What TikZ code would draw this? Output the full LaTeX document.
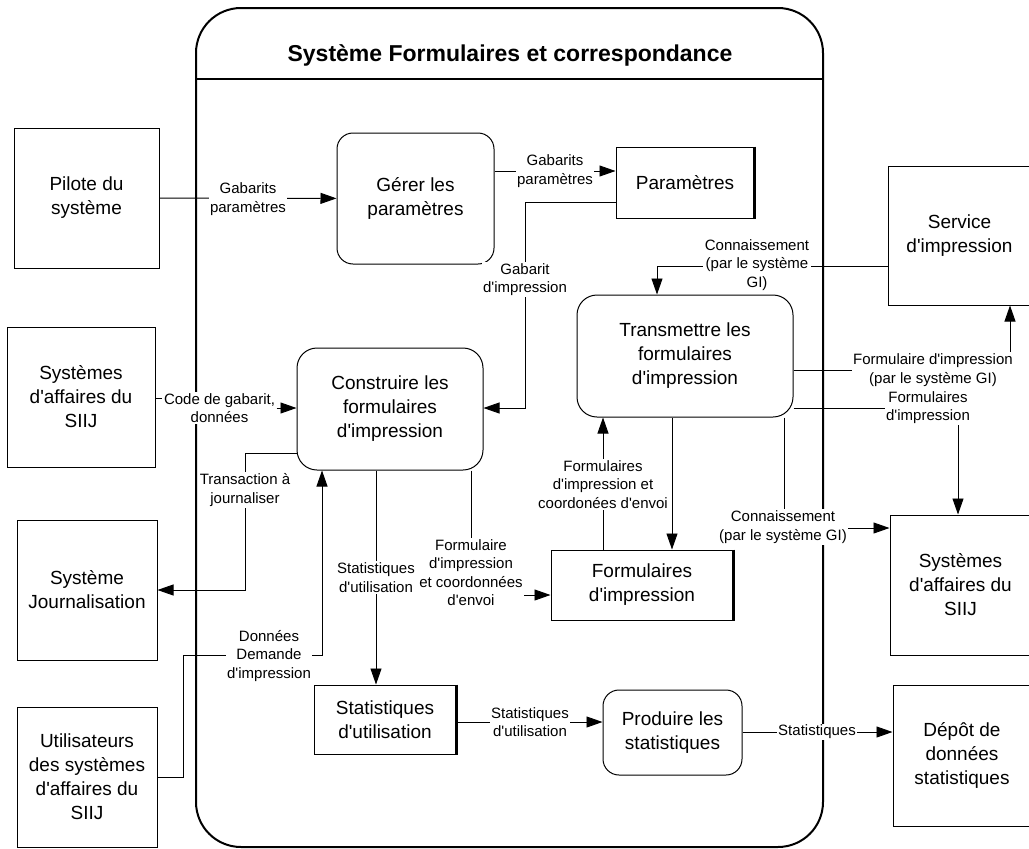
\documentclass[tikz,border=0pt]{standalone}
\usepackage{fontspec}
\setmainfont{Liberation Sans}[Ligatures=TeXOff]
\usetikzlibrary{arrows.meta}
\begin{document}
\begin{tikzpicture}[x=1pt,y=-1pt,
  boxtxt/.style={font=\fontsize{19}{24}\selectfont, align=center},
  ext/.style={boxtxt, draw, line width=1pt, inner sep=0pt},
  proc/.style={ext, rounded corners=16pt},
  store/.style={ext},
  flow/.style={draw, line width=0.9pt},
  arr/.style={flow, -{Triangle[length=16pt,width=11pt]}},
  lbl/.style={font=\fontsize{15}{18.5}\selectfont, align=center, fill=white, inner sep=1.5pt},
  thickside/.style={line width=3pt}
]
\useasboundingbox (0,0) rectangle (1029,849);
\clip (0,0) rectangle (1029,849);

% system boundary
\node[draw, line width=2pt, rounded corners=45pt, minimum width=627pt, minimum height=839pt] (sys) at (509.5,427.5) {};
\draw[line width=2pt] (sys.west |- 0,79) -- (sys.east |- 0,79);
\node[font=\fontsize{23}{27}\bfseries] (title) at (510,55) {Système Formulaires et correspondance};

% external entities
\node[ext, minimum width=145pt, minimum height=140pt] (pilot) at (86.5,198) {Pilote du\\système};
\node[ext, minimum width=148pt, minimum height=140pt] (sysL) at (81,397) {Systèmes\\d'affaires du\\SIIJ};
\node[ext, minimum width=140pt, minimum height=140pt] (journ) at (87,590) {Système\\Journalisation};
\node[ext, minimum width=140pt, minimum height=140pt] (users) at (87,777) {Utilisateurs\\des systèmes\\d'affaires du\\SIIJ};
\node[ext, minimum width=143pt, minimum height=139pt] (service) at (959.5,235.5) {Service\\d'impression};
\node[ext, minimum width=141pt, minimum height=140pt] (sysR) at (960.5,585) {Systèmes\\d'affaires du\\SIIJ};
\node[ext, minimum width=138pt, minimum height=141pt] (depot) at (962,755.5) {Dépôt de\\données\\statistiques};

% processes
\node[proc, minimum width=157pt, minimum height=131pt] (gerer) at (415.5,198.5) {Gérer les\\paramètres};
\node[proc, rounded corners=20pt, minimum width=186pt, minimum height=122pt] (constr) at (390,409) {Construire les\\formulaires\\d'impression};
\node[proc, rounded corners=20pt, minimum width=216pt, minimum height=122pt] (trans) at (685,356) {Transmettre les\\formulaires\\d'impression};
\node[proc, minimum width=139pt, minimum height=85pt] (prod) at (672.5,732.5) {Produire les\\statistiques};

% data stores
\node[store, minimum width=138pt, minimum height=71pt] (params) at (685,182.5) {Paramètres};
\node[store, minimum width=182pt, minimum height=70pt] (fstore) at (642,585) {Formulaires\\d'impression};
\node[store, minimum width=142pt, minimum height=69pt] (sstore) at (385,719.5) {Statistiques\\d'utilisation};
\foreach \s in {params,fstore,sstore}
  \draw[thickside] (\s.north east) -- (\s.south east);

% flows
\draw[arr] (pilot) -- (gerer);
\node[lbl] (l1) at (248,199) {Gabarits\\paramètres};

\draw[arr] (gerer.east |- 0,171) -- (params.west |- 0,171);
\node[lbl] (l2) at (555,171) {Gabarits\\paramètres};

\draw[arr] (params.west |- 0,202) -- (525,202) -- (525,408) -- (constr.east |- 0,408);
\node[lbl] (l3) at (525,279.5) {Gabarit\\d'impression};

\draw[arr] (service.west |- 0,266) -- (657,266) -- (trans.north -| 657,0);
\node[lbl] (l4) at (757,265) {Connaissement\\(par le système\\GI)};

\draw[arr] (trans.east |- 0,370) -- (1010,370) -- (service.south -| 1010,0);
\node[lbl] (l5) at (933,370) {Formulaire d'impression\\(par le système GI)};

\draw[arr] (trans.east |- 0,408) -- (958,408) -- (sysR.north -| 958,0);
\node[lbl] (l6) at (928,407.5) {Formulaires\\d'impression};

\draw[arr] (trans.south -| 784,0) -- (784,528) -- (sysR.west |- 0,528);
\node[lbl] (l7) at (783,527) {Connaissement\\(par le système GI)};

\draw[arr] (trans.south -| 672,0) -- (fstore.north -| 672,0);
\draw[arr] (fstore.north -| 603,0) -- (trans.south -| 603,0);
\node[lbl] (l8) at (603,484.5) {Formulaires\\d'impression et\\coordonées d'envoi};

\draw[arr] (constr.south -| 471,0) -- (471,595) -- (fstore.west |- 0,595);
\node[lbl] (l9) at (471,572.5) {Formulaire\\d'impression\\et coordonnées\\d'envoi};

\draw[arr] (constr.south -| 376,0) -- (sstore.north -| 376,0);
\node[lbl] (l10) at (376,577.5) {Statistiques\\d'utilisation};

\draw[arr] (sstore.east |- 0,722) -- (prod.west |- 0,722);
\node[lbl] (l11) at (530,722) {Statistiques\\d'utilisation};

\draw[arr] (prod.east |- 0,732) -- (depot.west |- 0,732);
\node[lbl] (l12) at (817,732) {Statistiques};

\draw[arr] (constr.west |- 0,453) -- (245,453) -- (245,590) -- (journ.east |- 0,590);
\node[lbl] (l13) at (245,490) {Transaction à\\journaliser};

\draw[arr] (users.east |- 0,777) -- (183,777) -- (183,655) -- (322,655) -- (constr.south -| 322,0);
\node[lbl] (l14) at (269,656) {Données\\Demande\\d'impression};

\node[lbl] (l15) at (219.5,408) {Code de gabarit,\\données};
\draw[flow] (sysL.east |- 0,398) -- (l15.west |- 0,398);
\draw[arr] (l15.east |- 0,408) -- (constr.west |- 0,408);
\end{tikzpicture}
\end{document}
